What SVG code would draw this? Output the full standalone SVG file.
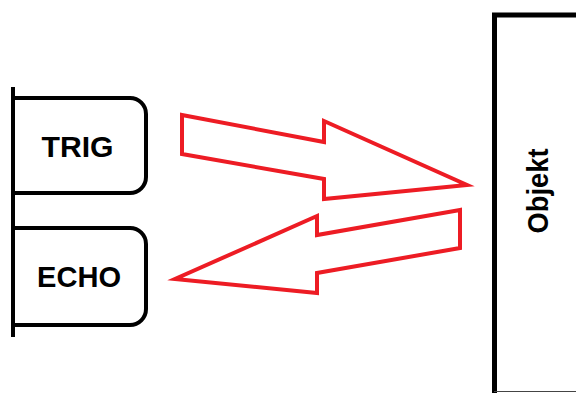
<svg xmlns="http://www.w3.org/2000/svg" width="576" height="393" viewBox="0 0 576 393">
  <style>
    .box { fill: #ffffff; stroke: #000000; stroke-width: 4; }
    .lbl { font-family: "Liberation Sans", Arial, sans-serif; font-weight: bold; font-size: 30px; fill: #000000; text-anchor: middle; }
    .arrow { fill: #ffffff; stroke: #ED1C24; stroke-width: 4; stroke-linejoin: miter; }
  </style>
  <rect width="576" height="393" fill="#ffffff"/>

  <!-- sensor pins -->
  <g id="trig">
    <path class="box" d="M13,98 H130 A16,16 0 0 1 146,114 V177 A16,16 0 0 1 130,193 H13"/>
    <text class="lbl" x="77.5" y="157" textLength="72" lengthAdjust="spacingAndGlyphs">TRIG</text>
  </g>
  <g id="echo">
    <path class="box" d="M13,228 H130 A16,16 0 0 1 146,244 V309 A16,16 0 0 1 130,325 H13"/>
    <text class="lbl" x="79" y="287" textLength="84" lengthAdjust="spacingAndGlyphs">ECHO</text>
  </g>
  <g id="sensor-edge">
    <line x1="13" y1="87" x2="13" y2="337" stroke="#000000" stroke-width="4"/>
  </g>

  <!-- target object -->
  <g id="objekt">
    <path d="M494.5,393 V15 H580" fill="#ffffff" stroke="#000000" stroke-width="5"/>
    <line x1="494" y1="391.5" x2="576" y2="391.5" stroke="#444444" stroke-width="1"/>
    <text class="lbl" transform="translate(548,191) rotate(-90)" textLength="85" lengthAdjust="spacingAndGlyphs">Objekt</text>
  </g>

  <!-- signal arrows -->
  <g id="connectors">
    <polygon class="arrow" points="182,115 324,142 324,121 467,185 324,199 324,179 182,154"/>
    <polygon class="arrow" points="460,210 317,235 317,216 175,279 317,293 317,273 460,248"/>
  </g>
</svg>
